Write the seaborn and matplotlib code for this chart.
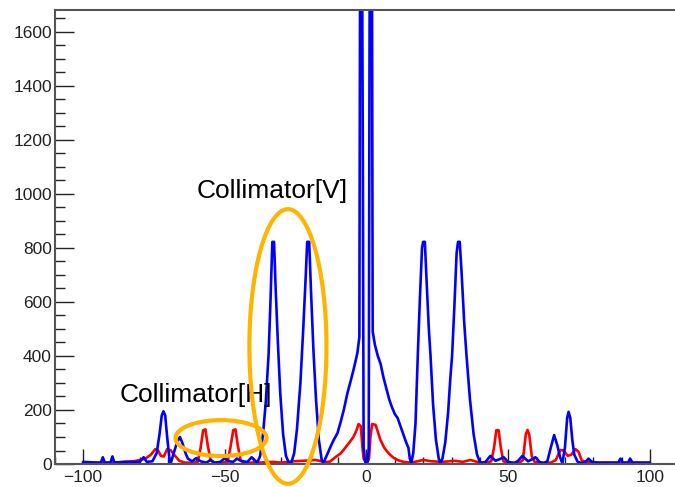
import matplotlib
matplotlib.use("Agg")
import matplotlib.pyplot as plt
from matplotlib.patches import Ellipse
from matplotlib.ticker import MultipleLocator
import seaborn as sns
import pandas as pd

# ---- data (x position, counts) ----
blue_x = [-100, -95, -93.7, -93, -92.3, -90.3, -89.6, -88.9, -85, -80, -78.6, -77.5, -75.5,
          -74, -73, -72.2, -71.6, -71, -70.3, -69.5, -69.1, -68, -66.8, -65.8, -65, -63.8, -63,
          -61.5, -60, -58.5, -56.5, -55, -53.5, -51.5, -50, -48.5, -47, -45.7, -44, -42, -40.5,
          -39.5, -38.5, -37.5, -36.5, -35.5, -34.5, -33.8, -33.2, -32.6, -32.0, -31.2, -30.4,
          -29.4, -28.4, -27.3, -26.5, -25.5, -24.5, -23.3, -22.3, -21.4, -20.9, -20.2, -19.6,
          -18.7, -17.8, -16.8, -15.8, -15.2, -14.5, -13.5, -12.5, -11.5, -10.2, -9, -8, -6.7,
          -5.5, -4.3, -3.2, -2.5, -2.1, -1.8, -1.3, -1.0, -0.5, 0, 0.5, 0.8, 1.3, 1.8, 2.2, 3,
          4, 5, 6, 7, 8, 9, 10, 11, 12, 13, 14, 14.8, 15.3, 15.8, 16.5, 17.3, 18.1, 18.8, 19.6,
          20.0, 20.6, 21.2, 22.0, 22.6, 23.5, 24.5, 25.5, 26.1, 26.8, 27.8, 28.8, 29.6, 30.2,
          31.0, 31.8, 32.3, 32.9, 33.6, 34.5, 35.3, 36.5, 37.8, 39.0, 40.2, 41, 42, 43.7, 45.5,
          47, 48.4, 50, 52, 53.5, 55, 57, 58.5, 59.6, 61, 62.5, 63.8, 65, 66.2, 67.3, 68.3,
          69.1, 70, 70.8, 71.3, 71.9, 72.6, 73.3, 74.5, 76, 77.3, 78.3, 79.5, 81, 85, 88.8,
          89.6, 90.4, 92.3, 93, 93.8, 97, 100]
blue_y = [8, 5, 5, 25, 5, 5, 28, 5, 8, 8, 25, 8, 10,
          40, 110, 180, 195, 180, 100, 20, 0, 40, 80, 100, 80, 40, 20,
          10, 22, 10, 5, 15, 5, 8, 22, 10, 8, 20, 10, 8, 25,
          15, 5, 30, 110, 230, 410, 620, 822, 822, 640, 440, 260,
          110, 30, 3, 5, 40, 130, 300, 500, 700, 822, 822, 650,
          420, 240, 90, 15, 3, 20, 45, 68, 90, 115, 160, 200, 263,
          310, 360, 411, 470, 2600, 2600, 1200, 60, 10, 0, 10, 60, 2600, 2600, 490, 440,
          400, 370, 320, 280, 240, 210, 185, 170, 140, 110, 80, 60, 20, 3, 40, 150, 400, 600, 800,
          822, 822, 680, 500, 400, 220, 90, 20, 3, 20, 80, 190, 320, 400,
          580, 780, 822, 822, 700, 520, 400, 240, 110, 35, 3, 5, 8, 30, 12,
          18, 25, 8, 3, 12, 30, 10, 18, 25, 8, 3, 10, 60, 107, 70, 25,
          3, 60, 170, 193, 170, 90, 35, 8, 3, 8, 20, 8, 5, 5, 5,
          20, 5, 5, 20, 5, 5, 5]

red_x = [-100, -90, -85, -82, -80, -78, -76, -74.5, -73.5, -72.5, -71.5, -70.3, -69, -67.5,
         -66, -64, -61, -59.5, -58.5, -57.6, -56.8, -56, -55, -54, -51, -49, -48, -47, -46.2,
         -45.4, -44.4, -43, -38, -33, -30, -26, -22, -18, -15, -13, -11, -9, -7.5, -6, -4.6,
         -3.5, -2.8, -2.0, -1.4, -1, 0, 0.9, 1.4, 2.0, 3.2, 4, 4.9, 6.3, 7.8, 9.3, 10.9, 13,
         15.5, 18, 20, 23, 27, 31, 34, 36.7, 39, 42, 44, 45, 45.8, 46.6, 47.4, 48.3, 50, 54,
         55.2, 56.2, 56.8, 57.4, 58.3, 59.3, 62, 65, 66.8, 68.4, 69.5, 71, 72.3, 73.7, 74.8,
         76, 78, 82, 100]
red_y = [5, 5, 8, 10, 15, 20, 35, 55, 50, 30, 28, 55, 50, 30,
         12, 5, 5, 8, 60, 125, 128, 70, 15, 5, 5, 8, 60, 125, 128,
         70, 15, 5, 5, 8, 5, 10, 12, 15, 8, 8, 25, 40, 60, 80, 100,
         125, 148, 140, 60, 20, 5, 20, 100, 148, 145, 120, 90, 60, 40, 25, 15, 8,
         5, 10, 15, 10, 8, 12, 8, 15, 8, 5, 10, 60, 125, 125, 60, 10, 5, 5,
         15, 110, 126, 110, 30, 8, 5, 5, 15, 52, 50, 30, 35, 55, 45,
         12, 8, 5, 5]

x_ticks = [-100, -50, 0, 50, 100]
y_ticks = [0, 200, 400, 600, 800, 1000, 1200, 1400, 1600]

blue_df = pd.DataFrame({"x": blue_x, "counts": blue_y})
red_df = pd.DataFrame({"x": red_x, "counts": red_y})

sns.set_style("white")
plt.rcParams["font.family"] = ["Liberation Sans", "DejaVu Sans"]

fig = plt.figure(figsize=(6.75, 4.87), dpi=100)
ax = fig.add_axes([0.0809, 0.0472, 0.924, 0.9323])

sns.lineplot(data=red_df, x="x", y="counts", color="#FF0000", linewidth=1.9, ax=ax,
             sort=False, estimator=None)
sns.lineplot(data=blue_df, x="x", y="counts", color="#0000FF", linewidth=1.9, ax=ax,
             sort=False, estimator=None)

ax.set_xlim(-110, 110)
ax.set_ylim(0, 1680)
ax.set_xticks(x_ticks)
ax.set_yticks(y_ticks)
ax.xaxis.set_minor_locator(MultipleLocator(10))
ax.yaxis.set_minor_locator(MultipleLocator(50))
ax.set_xlabel("")
ax.set_ylabel("")

# ROOT-like inward ticks
ax.tick_params(axis="both", which="both", direction="in", colors="#222222",
               labelsize=12.5, width=1, bottom=True, left=True, top=False, right=False)
ax.tick_params(axis="y", which="major", length=14, pad=2)
ax.tick_params(axis="y", which="minor", length=7)
ax.tick_params(axis="x", which="major", length=11, pad=4)
ax.tick_params(axis="x", which="minor", length=5)
for side in ["left", "bottom", "top", "right"]:
    ax.spines[side].set_color("#555555")
    ax.spines[side].set_linewidth(1.5)

# orange annotation ellipses
ax.add_patch(Ellipse((-27.7, 435), 27.2, 1016, fill=False, edgecolor="#FFB400",
                     linewidth=3, clip_on=False, zorder=5))
ax.add_patch(Ellipse((-51.3, 96), 32.1, 133, fill=False, edgecolor="#FFB400",
                     linewidth=3, clip_on=False, zorder=5))

ax.text(-59.8, 986, "Collimator[V]", fontsize=19, color="black", va="baseline")
ax.text(-86.9, 230, "Collimator[H]", fontsize=19, color="black", va="baseline")

fig.savefig("out.png", dpi=100)
